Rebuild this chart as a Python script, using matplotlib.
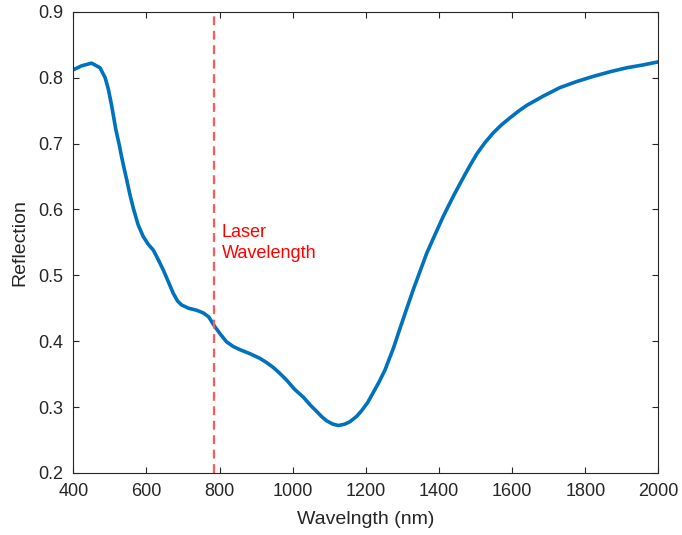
import matplotlib
matplotlib.use("Agg")
import matplotlib.pyplot as plt

# reflection spectrum
wavelength = [400, 423, 450, 473, 487, 496, 505, 516, 526, 532, 539, 546, 555,
              564, 577, 591, 605, 619, 632, 646, 660, 673, 685, 696, 715, 737,
              755, 770, 787, 803, 819, 837, 856, 883, 910, 930, 947, 965, 983,
              1005, 1029, 1048, 1066, 1080, 1093, 1110, 1125, 1142, 1157, 1175,
              1189, 1205, 1220, 1236, 1252, 1275, 1293, 1312, 1330, 1348, 1366,
              1390, 1412, 1440, 1466, 1485, 1503, 1525, 1548, 1570, 1594, 1617,
              1640, 1685, 1731, 1776, 1822, 1868, 1913, 1955, 2000]
reflection = [0.812, 0.818, 0.822, 0.815, 0.800, 0.782, 0.757, 0.722, 0.697,
              0.680, 0.662, 0.645, 0.622, 0.602, 0.577, 0.559, 0.547, 0.538,
              0.524, 0.508, 0.490, 0.473, 0.461, 0.455, 0.450, 0.447, 0.443,
              0.437, 0.422, 0.410, 0.399, 0.392, 0.387, 0.381, 0.374, 0.367,
              0.360, 0.351, 0.341, 0.327, 0.315, 0.303, 0.293, 0.285, 0.279,
              0.274, 0.272, 0.274, 0.278, 0.286, 0.295, 0.307, 0.322, 0.338,
              0.356, 0.389, 0.419, 0.450, 0.479, 0.506, 0.533, 0.563, 0.590,
              0.621, 0.648, 0.667, 0.684, 0.701, 0.716, 0.728, 0.739, 0.749,
              0.758, 0.772, 0.785, 0.794, 0.802, 0.809, 0.815, 0.819, 0.824]
laser_nm = 785
x_ticks = [400, 600, 800, 1000, 1200, 1400, 1600, 1800, 2000]
y_ticks = [0.2, 0.3, 0.4, 0.5, 0.6, 0.7, 0.8, 0.9]

plt.rcParams["font.family"] = ["Liberation Sans", "DejaVu Sans"]

fig = plt.figure(figsize=(6.82, 5.35), dpi=100)
ax = fig.add_axes([0.1075, 0.116, 0.858, 0.862])

ax.plot(wavelength, reflection, color="#0072BD", linewidth=2.6,
        solid_joinstyle="round")
ax.axvline(laser_nm, color="#FF5A5A", linestyle=(0, (4, 2.5)), linewidth=1.6)
ax.text(laser_nm + 21, 0.549, "Laser\nWavelength", color="red", fontsize=13,
        va="center", ha="left", linespacing=1.25)

ax.set_xlim(400, 2000)
ax.set_ylim(0.2, 0.9)
ax.set_xticks(x_ticks)
ax.set_yticks(y_ticks)
ax.set_yticklabels([f"{v:.1f}" for v in y_ticks])
ax.tick_params(direction="in", top=True, right=True, length=4, width=0.8,
               colors="#262626", labelsize=13, pad=7)
for s in ax.spines.values():
    s.set_color("#262626")
    s.set_linewidth(0.8)

ax.set_xlabel("Wavelngth (nm)", fontsize=14, color="#262626", labelpad=8)
ax.set_ylabel("Reflection", fontsize=14, color="#262626", labelpad=7)

fig.savefig("out.png", dpi=100)
